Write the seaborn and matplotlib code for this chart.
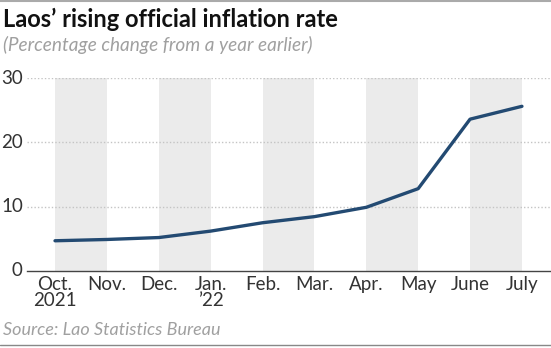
import matplotlib
matplotlib.use("Agg")
import matplotlib.pyplot as plt
import seaborn as sns
import pandas as pd
from matplotlib.lines import Line2D

months = ["Oct.\n2021", "Nov.", "Dec.", "Jan.\n\u201922", "Feb.", "Mar.", "Apr.", "May", "June", "July"]
inflation = [4.7, 4.9, 5.2, 6.2, 7.5, 8.45, 9.9, 12.8, 23.6, 25.6]
yticks = [0, 10, 20, 30]

sns.set_theme(style="white")
plt.rcParams['font.family'] = ['Lato', 'DejaVu Sans']

df = pd.DataFrame({"idx": range(len(months)), "value": inflation})

fig = plt.figure(figsize=(5.51, 3.48), dpi=100)
ax = fig.add_axes([27/551, 1 - 271/348, 1 - 27/551, 193/348])

# shaded bands
for i in range(0, len(months) - 1, 2):
    ax.axvspan(i, i + 1, ymin=0, ymax=1, color="#ebebeb", lw=0, zorder=0)

for y in yticks[1:]:
    ax.axhline(y, color="#c4c4c4", lw=1, ls=(0, (1, 1.5)), zorder=1)

sns.lineplot(data=df, x="idx", y="value", ax=ax, color="#234a72", lw=2.4, zorder=3)

ax.set_xlim(-0.54, 9.56)
ax.set_ylim(0, 30)
ax.set_xticks(range(len(months)))
ax.set_xticklabels(months, fontsize=13.5, color="#333333", linespacing=0.95)
ax.set_yticks(yticks)
ax.set_yticklabels([str(v) for v in yticks], fontsize=13.5, color="#333333")
for s in ["top", "right", "left"]:
    ax.spines[s].set_visible(False)
ax.spines["bottom"].set_color("#444444")
ax.spines["bottom"].set_linewidth(1.0)
ax.tick_params(axis="x", direction="inout", length=3, width=2, color="#222222", pad=2)
ax.tick_params(axis="y", length=0, pad=3)
for lbl in ax.get_yticklabels():
    lbl.set_verticalalignment("center")
ax.set_xlabel("")
ax.set_ylabel("")

fig.text(3/551, 1 - 19/348, "Laos\u2019 rising official inflation rate", fontsize=17,
         fontweight="bold", color="#111111", va="center", ha="left")
fig.text(3/551, 1 - 45/348, "(Percentage change from a year earlier)", fontsize=13.7,
         style="italic", color="#a0a0a0", va="center", ha="left")
fig.text(3/551, 1 - 330/348, "Source: Lao Statistics Bureau", fontsize=13,
         style="italic", color="#a0a0a0", va="center", ha="left")

fig.add_artist(Line2D([0, 1], [1 - 1/348, 1 - 1/348], color="#aaaaaa", lw=1.5))
fig.add_artist(Line2D([0, 1], [1 - 345/348, 1 - 345/348], color="#888888", lw=1))

fig.savefig("out.png", dpi=100)
